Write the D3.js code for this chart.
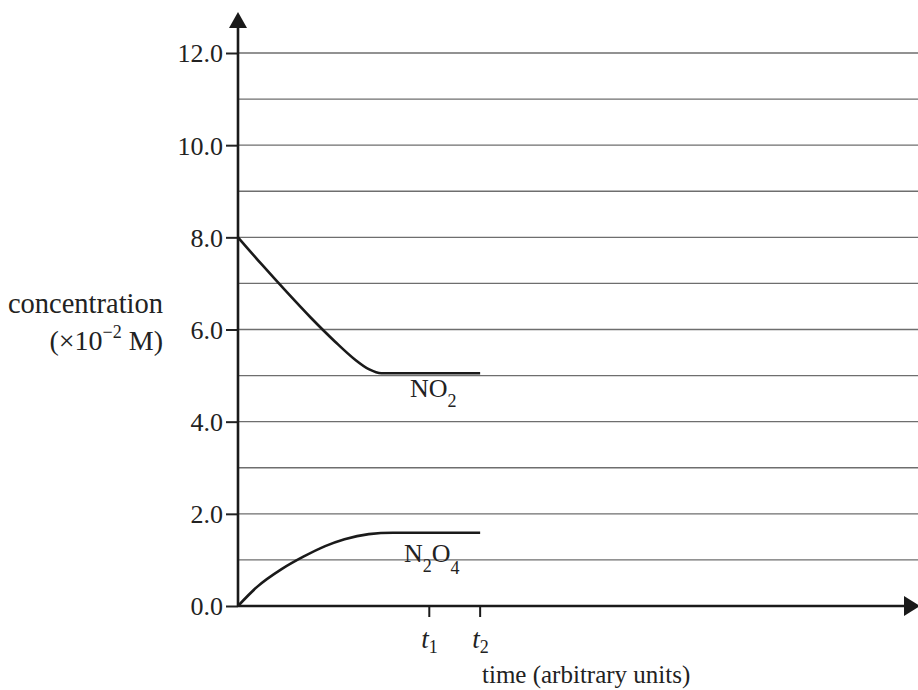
<!DOCTYPE html>
<html>
  <head>
    <meta charset="utf-8">
    <script src="https://d3js.org/d3.v7.min.js"></script>
    <style>
      body { margin: 0; background: #fff; }
      svg { display: block; }
      text { font-family: "Liberation Serif", "Times New Roman", serif; fill: #222; }
      .tick line { stroke: #222; stroke-width: 2px; }
      .tick text { font-size: 26px; fill: #222; }
      .grid { stroke: #6e6e6e; stroke-width: 1.3px; }
      .curve { fill: none; stroke: #1a1a1a; stroke-width: 2.6px; }
      .axisline { stroke: #1a1a1a; stroke-width: 2.6px; }
    </style>
  </head>
  <body>
    <div id="chart"></div>
    <script>
      // values (time in arbitrary units, conc. in 10^-2 M)
      var yTicks = [0, 2, 4, 6, 8, 10, 12];
      var gridValues = [1, 2, 3, 4, 5, 6, 7, 8, 9, 10, 11, 12];
      var timeMarks = [{ t: 3.95, sub: "1" }, { t: 5.0, sub: "2" }];

      var no2Time = [0, 0.5, 1.0, 1.5, 2.0, 2.4, 2.7, 2.96, 5.0];
      var no2Conc = [8.0, 7.4, 6.82, 6.26, 5.74, 5.36, 5.14, 5.05, 5.05];

      var n2o4Time = [0, 0.4, 0.9, 1.35, 1.8, 2.2, 2.7, 3.2, 5.0];
      var n2o4Conc = [0, 0.42, 0.8, 1.07, 1.3, 1.45, 1.56, 1.59, 1.59];

      var width = 918, height = 690;
      var x0 = 238, xEnd = 918, y0 = 606, yTop = 12;

      var svg = d3.select("#chart").append("svg")
          .attr("width", width)
          .attr("height", height);

      var x = d3.scaleLinear().domain([0, 14]).range([x0, 916]);
      var y = d3.scaleLinear().domain([0, 12]).range([y0, 53]);

      // horizontal grid
      svg.append("g").selectAll("line")
          .data(gridValues)
          .enter().append("line")
          .attr("class", "grid")
          .attr("x1", x0).attr("x2", xEnd)
          .attr("y1", function(d) { return y(d); })
          .attr("y2", function(d) { return y(d); });

      // y axis ticks + labels
      var yAxis = d3.axisLeft(y)
          .tickValues(yTicks)
          .tickSize(12)
          .tickPadding(3)
          .tickFormat(d3.format(".1f"));
      var gy = svg.append("g")
          .attr("transform", "translate(" + x0 + ",0)")
          .call(yAxis);
      gy.select(".domain").remove();
      gy.selectAll(".tick text").attr("dy", "0.34em");

      // axis lines with arrow heads
      svg.append("line").attr("class", "axisline")
          .attr("x1", x0).attr("x2", x0).attr("y1", y0 + 1).attr("y2", yTop + 10);
      svg.append("path")
          .attr("d", "M" + x0 + "," + yTop + "L" + (x0 - 9) + "," + (yTop + 16) + "L" + (x0 + 9) + "," + (yTop + 16) + "Z")
          .attr("fill", "#1a1a1a");
      svg.append("line").attr("class", "axisline")
          .attr("x1", x0).attr("x2", xEnd - 8).attr("y1", y0).attr("y2", y0);
      svg.append("path")
          .attr("d", "M" + (xEnd + 2) + "," + y0 + "L" + (xEnd - 14) + "," + (y0 - 10) + "L" + (xEnd - 14) + "," + (y0 + 10) + "Z")
          .attr("fill", "#1a1a1a");

      // time marks t1, t2
      var tm = svg.append("g").selectAll("g")
          .data(timeMarks)
          .enter().append("g")
          .attr("transform", function(d) { return "translate(" + x(d.t) + "," + y0 + ")"; });
      tm.append("line")
          .attr("y1", 0).attr("y2", 11)
          .attr("stroke", "#1a1a1a").attr("stroke-width", 2);
      var tl = tm.append("text")
          .attr("x", -8).attr("y", 42)
          .style("font-size", "27px");
      tl.append("tspan").style("font-style", "italic").text("t");
      tl.append("tspan").attr("dy", 5).style("font-size", "18px")
          .text(function(d) { return d.sub; });

      // curves
      var line = d3.line()
          .x(function(d) { return x(d[0]); })
          .y(function(d) { return y(d[1]); })
          .curve(d3.curveMonotoneX);

      svg.append("path").attr("class", "curve")
          .attr("d", line(d3.zip(no2Time, no2Conc)));
      svg.append("path").attr("class", "curve")
          .attr("d", line(d3.zip(n2o4Time, n2o4Conc)));

      // species labels
      var l1 = svg.append("text").attr("x", 410).attr("y", 397).style("font-size", "26px");
      l1.append("tspan").text("NO");
      l1.append("tspan").attr("dy", 10).style("font-size", "18px").text("2");

      var l2 = svg.append("text").attr("x", 404).attr("y", 562).style("font-size", "26px");
      l2.append("tspan").text("N");
      l2.append("tspan").attr("dy", 10).style("font-size", "18px").text("2");
      l2.append("tspan").attr("dy", -10).text("O");
      l2.append("tspan").attr("dy", 12).style("font-size", "18px").text("4");

      // axis titles
      svg.append("text")
          .attr("x", 163).attr("y", 313)
          .attr("text-anchor", "end")
          .style("font-size", "28.5px")
          .text("concentration");
      var yl = svg.append("text")
          .attr("x", 163).attr("y", 350)
          .attr("text-anchor", "end")
          .style("font-size", "28px");
      yl.append("tspan").text("(\u00d710");
      yl.append("tspan").attr("dy", -12).style("font-size", "18px").text("\u22122");
      yl.append("tspan").attr("dy", 12).text(" M)");

      svg.append("text")
          .attr("x", 482).attr("y", 683)
          .style("font-size", "25px")
          .text("time (arbitrary units)");
    </script>
  </body>
</html>
